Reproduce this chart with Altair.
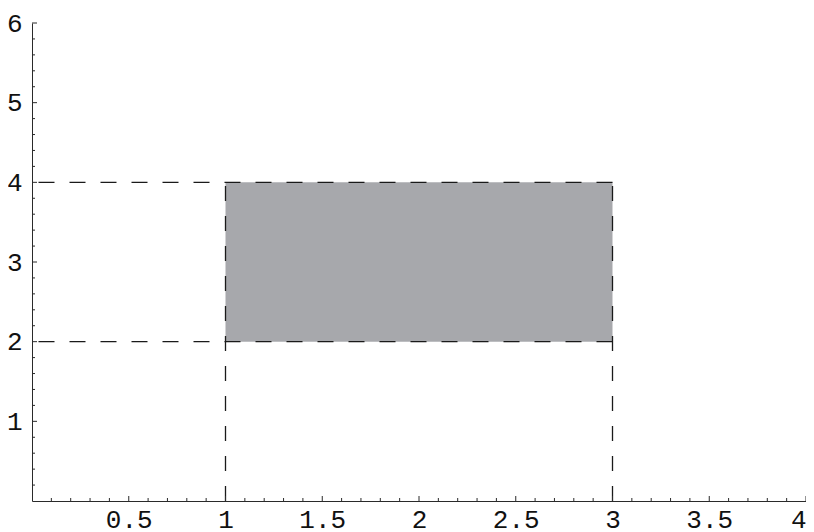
import altair as alt
import pandas as pd

# Data
rect_x = [1, 3]
rect_y = [2, 4]
hline_y = [2, 4]          # dashed horizontal guides, from x=0 to x=3
vline_x = [1, 3]          # dashed vertical guides, from y=0 to y=4
x_labels = [0.5, 1, 1.5, 2, 2.5, 3, 3.5, 4]
y_labels = [1, 2, 3, 4, 5, 6]
x_major = [0.5, 1, 1.5, 2, 2.5, 3, 3.5, 4]
x_minor = [0.1, 0.2, 0.3, 0.4, 0.6, 0.7, 0.8, 0.9, 1.1, 1.2, 1.3, 1.4,
           1.6, 1.7, 1.8, 1.9, 2.1, 2.2, 2.3, 2.4, 2.6, 2.7, 2.8, 2.9,
           3.1, 3.2, 3.3, 3.4, 3.6, 3.7, 3.8, 3.9]
y_major = [1, 2, 3, 4, 5, 6]
y_minor = [0.2, 0.4, 0.6, 0.8, 1.2, 1.4, 1.6, 1.8, 2.2, 2.4, 2.6, 2.8,
           3.2, 3.4, 3.6, 3.8, 4.2, 4.4, 4.6, 4.8, 5.2, 5.4, 5.6, 5.8]

FONT = "Liberation Mono"
AX = "#2a2a2a"

xscale = alt.Scale(domain=[0, 4], nice=False, zero=False)
yscale = alt.Scale(domain=[0, 6], nice=False, zero=False)
xaxis = alt.Axis(values=x_labels, format="~g", ticks=False, tickSize=0, grid=False,
                 labelFont=FONT, labelFontSize=26, labelColor="#111", labelPadding=5,
                 domainColor=AX, domainWidth=1, title=None, labelFlush=True)
yaxis = alt.Axis(values=y_labels, format="~g", ticks=False, tickSize=0, grid=False,
                 labelFont=FONT, labelFontSize=26, labelColor="#111", labelPadding=10,
                 domainColor=AX, domainWidth=1, title=None, labelFlush=False)

rect_df = pd.DataFrame({"x1": [rect_x[0]], "x2": [rect_x[1]],
                        "y1": [rect_y[0]], "y2": [rect_y[1]]})
rect = alt.Chart(rect_df).mark_rect(color="#a7a8ac").encode(
    x=alt.X("x1:Q", scale=xscale, axis=xaxis),
    x2="x2:Q",
    y=alt.Y("y1:Q", scale=yscale, axis=yaxis),
    y2="y2:Q",
)

h_df = pd.DataFrame({"y": hline_y, "xa": [3] * len(hline_y), "xb": [0] * len(hline_y)})
hl = alt.Chart(h_df).mark_rule(color="#1a1a1a", strokeWidth=1.3, strokeDash=[16, 15]).encode(
    x=alt.X("xa:Q", scale=xscale, axis=xaxis), x2="xb:Q",
    y=alt.Y("y:Q", scale=yscale, axis=yaxis),
)

v_df = pd.DataFrame({"x": vline_x, "ya": [0] * len(vline_x), "yb": [4] * len(vline_x)})
vl = alt.Chart(v_df).mark_rule(color="#1a1a1a", strokeWidth=1.3, strokeDash=[15, 15]).encode(
    x=alt.X("x:Q", scale=xscale, axis=xaxis),
    y=alt.Y("ya:Q", scale=yscale, axis=yaxis), y2="yb:Q",
)

def xticks(vals, length):
    df = pd.DataFrame({"v": vals, "z": [0] * len(vals)})
    return alt.Chart(df).mark_rule(color=AX, strokeWidth=1, y2Offset=-length).encode(
        x=alt.X("v:Q", scale=xscale, axis=xaxis),
        y=alt.Y("z:Q", scale=yscale, axis=yaxis), y2="z:Q",
    )

def yticks(vals, length):
    df = pd.DataFrame({"v": vals, "z": [0] * len(vals)})
    return alt.Chart(df).mark_rule(color=AX, strokeWidth=1, x2Offset=length).encode(
        y=alt.Y("v:Q", scale=yscale, axis=yaxis),
        x=alt.X("z:Q", scale=xscale, axis=xaxis), x2="z:Q",
    )

chart = alt.layer(
    rect, hl, vl,
    xticks(x_major, 5), xticks(x_minor, 3),
    yticks(y_major, 5), yticks(y_minor, 3),
).properties(
    width=774, height=478,
    autosize=alt.AutoSizeParams(type="none"),
    padding={"left": 24, "top": 15, "right": 0, "bottom": 30},
    background="white",
).configure_view(strokeWidth=0, strokeOpacity=0)

chart.save("out.html", embed_options={"renderer": "svg", "actions": False})
